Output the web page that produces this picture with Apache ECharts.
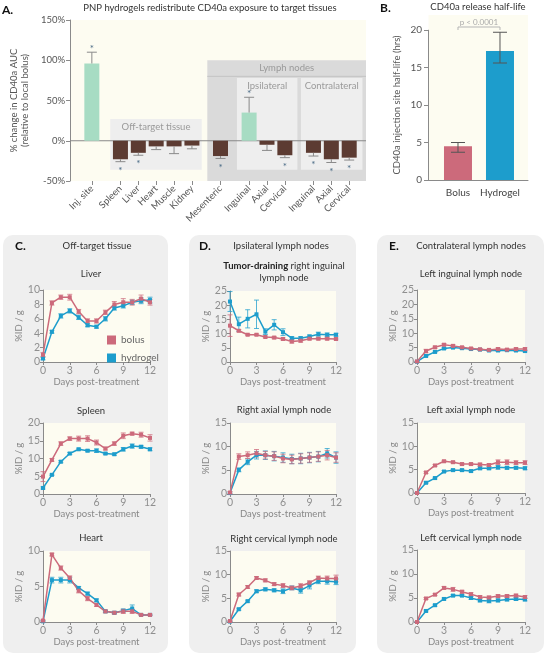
<!DOCTYPE html>
<html><head><meta charset="utf-8">
<script src="https://cdn.jsdelivr.net/npm/echarts@6/dist/echarts.min.js"></script>
<style>html,body{margin:0;padding:0;background:#fff}#c{width:546px;height:659px}</style>
</head><body><div id="c"></div>
<script>
// ---------------- DATA ----------------
// Panel A
const aCategories = ['Inj. site','Spleen','Liver','Heart','Muscle','Kidney','Mesenteric','Inguinal','Axial','Cervical','Inguinal','Axial','Cervical'];
const aPositions = [0,1.6,2.6,3.6,4.6,5.6,7.2,8.8,9.8,10.8,12.4,13.4,14.4];
const aValues = [96,-23,-15,-7,-7,-6,-19,35,-5,-18,-15,-23,-21];
const aErrorEnds = [110,-26,-18,-11,-16,-10,-22,54,-12,-21,-19,-27,-24];
const aSignificant = [1,1,1,0,0,0,1,1,0,1,1,1,1];
const aTickValues = [-50,0,50,100,150];
const aRegionLabels = ['Off-target tissue','Lymph nodes','Ipsilateral','Contralateral'];

// Panel B
const bCategories = ['Bolus','Hydrogel'];
const bValues = [4.5, 17.2];
const bErrLow = [3.7, 15.6];
const bErrHigh = [5.0, 19.7];
const bPValue = 'p < 0.0001';
const bTickValues = [0,5,10,15,20];

// Panels C/D/E
const days = [0,1,2,3,4,5,6,7,8,9,10,11,12];
const liverBolus = [1.0,8.2,9.0,9.0,7.0,5.7,5.7,6.9,8.0,8.3,8.3,8.8,8.3];
const liverBolusErr = [0.3,0.3,0.3,0.4,0.3,0.3,0.3,0.3,0.4,0.5,0.4,0.5,0.4];
const liverHydrogel = [0.5,4.2,6.4,7.1,6.2,5.1,4.9,6.0,7.5,7.8,8.3,8.5,8.6];
const liverHydrogelErr = [0.2,0.2,0.3,0.3,0.3,0.2,0.2,0.3,0.3,0.3,0.3,0.4,0.4];

const spleenBolus = [4.9,9.6,14.2,15.6,15.6,15.6,14.5,12.8,14.2,16.4,17.0,16.7,15.8];
const spleenBolusErr = [1.4,0.4,0.5,0.5,0.7,0.8,0.7,0.4,0.5,0.8,0.4,0.7,0.9];
const spleenHydrogel = [1.7,5.4,9.1,11.4,12.6,12.2,12.2,11.4,11.2,12.6,13.5,13.3,12.6];
const spleenHydrogelErr = [0.3,0.2,0.3,0.3,0.3,0.3,0.5,0.3,0.3,0.5,0.6,0.4,0.4];

const heartBolus = [0.2,9.5,7.6,6.2,4.4,3.3,2.4,1.5,1.3,1.5,1.5,1.0,1.0];
const heartBolusErr = [0.1,0.2,0.3,0.3,0.3,0.3,0.2,0.2,0.2,0.3,0.3,0.1,0.1];
const heartHydrogel = [0.1,5.9,5.9,5.9,4.8,4.0,3.05,1.5,1.3,1.6,1.9,1.0,1.0];
const heartHydrogelErr = [0.1,0.4,0.4,0.4,0.2,0.2,0.2,0.1,0.1,0.2,0.5,0.1,0.1];

const rInguinalBolus = [12.8,11.0,9.6,9.6,8.8,8.6,8.1,7.2,7.5,8.2,8.2,8.2,8.1];
const rInguinalBolusErr = [3.8,0.4,0.3,0.3,0.3,0.4,0.4,0.5,0.5,0.4,0.4,0.4,0.3];
const rInguinalHydrogel = [21.3,13.3,15.2,16.8,10.7,13.1,10.5,8.4,8.4,9.0,9.8,9.6,9.6];
const rInguinalHydrogelErr = [3.5,2.5,3.2,5.0,1.0,1.8,1.2,0.5,0.5,0.5,0.7,0.6,0.5];

const rAxialBolus = [0.3,7.9,8.2,8.6,8.2,8.0,7.5,7.3,7.5,7.7,7.9,8.2,7.7];
const rAxialBolusErr = [0.2,0.6,0.7,0.8,0.8,0.9,0.9,0.9,1.0,1.0,1.0,1.0,1.0];
const rAxialHydrogel = [0.2,5.1,6.8,8.2,8.2,8.0,7.7,7.4,7.5,7.7,7.9,8.6,7.7];
const rAxialHydrogelErr = [0.2,0.4,0.6,0.8,0.9,1.0,1.0,1.0,1.1,1.1,1.1,1.0,1.2];

const rCervicalBolus = [0.2,5.8,7.4,9.3,8.8,8.0,7.7,7.2,7.6,8.3,9.3,9.2,9.2];
const rCervicalBolusErr = [0.1,0.3,0.3,0.3,0.3,0.3,0.4,0.4,0.5,0.4,0.4,0.5,0.7];
const rCervicalHydrogel = [0.1,2.7,4.4,6.5,6.9,6.7,6.5,7.2,6.7,7.7,8.6,8.6,8.5];
const rCervicalHydrogelErr = [0.1,0.2,0.2,0.3,0.3,0.3,0.5,0.4,0.6,0.7,0.5,0.6,0.6];

const lInguinalBolus = [0.2,3.8,5.1,6.0,5.6,5.1,4.7,4.4,4.2,4.5,4.3,4.5,4.5];
const lInguinalBolusErr = [0.1,0.6,0.4,0.4,0.4,0.3,0.3,0.3,0.3,0.4,0.3,0.4,0.4];
const lInguinalHydrogel = [0.1,2.1,3.5,4.7,5.0,4.8,4.5,4.3,4.0,4.0,4.1,4.0,3.8];
const lInguinalHydrogelErr = [0.1,0.3,0.3,0.3,0.3,0.3,0.3,0.3,0.3,0.3,0.3,0.3,0.3];

const lAxialBolus = [0.0,4.4,5.9,6.8,6.6,6.2,6.2,6.1,6.0,6.6,6.6,6.5,6.5];
const lAxialBolusErr = [0.1,0.2,0.2,0.2,0.2,0.2,0.2,0.3,0.3,0.5,0.5,0.4,0.4];
const lAxialHydrogel = [0.0,2.2,3.2,4.6,4.9,4.9,4.7,5.3,5.3,5.5,5.4,5.4,5.3];
const lAxialHydrogelErr = [0.1,0.2,0.2,0.2,0.2,0.2,0.2,0.3,0.3,0.4,0.3,0.3,0.3];

const lCervicalBolus = [0.0,4.9,5.7,7.1,6.8,6.3,5.8,5.2,5.1,5.4,5.4,5.5,5.2];
const lCervicalBolusErr = [0.1,0.2,0.2,0.3,0.4,0.3,0.3,0.3,0.3,0.3,0.3,0.3,0.3];
const lCervicalHydrogel = [0.0,2.3,3.5,4.8,5.5,5.5,5.0,4.5,4.4,4.5,4.7,4.8,4.7];
const lCervicalHydrogelErr = [0.1,0.2,0.2,0.2,0.2,0.2,0.3,0.3,0.4,0.3,0.3,0.3,0.3];

const lineCharts = [
  {title:'Liver', max:10, interval:2, bolus:liverBolus, bolusErr:liverBolusErr, hydrogel:liverHydrogel, hydrogelErr:liverHydrogelErr},
  {title:'Spleen', max:20, interval:5, bolus:spleenBolus, bolusErr:spleenBolusErr, hydrogel:spleenHydrogel, hydrogelErr:spleenHydrogelErr},
  {title:'Heart', max:10, interval:5, bolus:heartBolus, bolusErr:heartBolusErr, hydrogel:heartHydrogel, hydrogelErr:heartHydrogelErr},
  {title:'{b|Tumor-draining} right inguinal\nlymph node', max:25, interval:5, bolus:rInguinalBolus, bolusErr:rInguinalBolusErr, hydrogel:rInguinalHydrogel, hydrogelErr:rInguinalHydrogelErr},
  {title:'Right axial lymph node', max:15, interval:5, bolus:rAxialBolus, bolusErr:rAxialBolusErr, hydrogel:rAxialHydrogel, hydrogelErr:rAxialHydrogelErr},
  {title:'Right cervical lymph node', max:15, interval:5, bolus:rCervicalBolus, bolusErr:rCervicalBolusErr, hydrogel:rCervicalHydrogel, hydrogelErr:rCervicalHydrogelErr},
  {title:'Left inguinal lymph node', max:25, interval:5, bolus:lInguinalBolus, bolusErr:lInguinalBolusErr, hydrogel:lInguinalHydrogel, hydrogelErr:lInguinalHydrogelErr},
  {title:'Left axial lymph node', max:15, interval:5, bolus:lAxialBolus, bolusErr:lAxialBolusErr, hydrogel:lAxialHydrogel, hydrogelErr:lAxialHydrogelErr},
  {title:'Left cervical lymph node', max:15, interval:5, bolus:lCervicalBolus, bolusErr:lCervicalBolusErr, hydrogel:lCervicalHydrogel, hydrogelErr:lCervicalHydrogelErr}
];

// ---------------- LAYOUT / STYLE ----------------
const FONT = 'Lato, "Noto Sans", sans-serif';
const BOLUS = '#cc6a7b', HYDRO = '#1d9dcc';
const GREEN = '#a7dcc3', BROWN = '#5c3b32';
const PLOTBG = '#fdfcf1';
const AXIS = '#8a8a8a', LABEL = '#8f8f8f';

const aXMin = -1.22, aXMax = 15.34;
const aRegions = [
  {x0:6.46, x1:aXMax, y0:-50, y1:100, fill:'#dadada'},
  {x0:6.46, x1:aXMax, y0:80, y1:80, line:'#c3c3c3'},
  {x0:1.03, x1:6.15, y0:-36, y1:27, fill:'#eeeeee', label:0},
  {x0:6.46, x1:aXMax, y0:80, y1:100, label:1, noFill:true},
  {x0:8.12, x1:11.5, y0:-36, y1:78, fill:'#eeeeee', label:2},
  {x0:11.7, x1:15.14, y0:-36, y1:78, fill:'#eeeeee', label:3}
];
const bXMin = -0.714, bXMax = 1.667;

const lineLayout = [
  {left:43, top:290, width:107, height:72, tx:91, ty:274},
  {left:43, top:423, width:107, height:71, tx:91, ty:411},
  {left:43, top:551, width:107, height:71, tx:91, ty:538},
  {left:230, top:291, width:106, height:71, tx:284, ty:272},
  {left:230, top:423, width:106, height:71, tx:284, ty:410},
  {left:230, top:551, width:106, height:71, tx:284, ty:539},
  {left:417, top:290, width:108, height:72, tx:471, ty:274},
  {left:417, top:423, width:108, height:70, tx:471, ty:410},
  {left:417, top:550, width:108, height:72, tx:471, ty:538}
];

const grid = [
  {left:53, top:20, width:313, height:161, show:true, backgroundColor:PLOTBG, borderWidth:0},
  {left:428, top:30, width:100, height:150, show:true, backgroundColor:PLOTBG, borderWidth:0}
];
const xAxis = [
  {gridIndex:0, type:'value', min:aXMin, max:aXMax, splitLine:{show:false}, axisLine:{show:false, onZero:false},
   axisTick:{show:true, customValues:aPositions, length:4, lineStyle:{color:AXIS}},
   axisLabel:{customValues:aPositions, rotate:45, margin:6, fontSize:9.5, color:'#555', fontFamily:FONT,
     formatter:function(v){ let best=0; for(let i=0;i<aPositions.length;i++){ if(Math.abs(aPositions[i]-v)<Math.abs(aPositions[best]-v)) best=i; } return aCategories[best]; }}},
  {gridIndex:1, type:'value', min:bXMin, max:bXMax, splitLine:{show:false},
   axisLine:{show:true, onZero:false, lineStyle:{color:AXIS}}, axisTick:{show:false},
   axisLabel:{customValues:[0,1], margin:8, fontSize:10, color:'#444', fontFamily:FONT,
     formatter:function(v){ return bCategories[Math.round(v)]; }}}
];
const yAxis = [
  {gridIndex:0, type:'value', min:-50, max:150, interval:50, splitLine:{show:false},
   axisLine:{show:true, onZero:false, lineStyle:{color:AXIS}}, axisTick:{show:true, length:4, lineStyle:{color:AXIS}},
   axisLabel:{formatter:'{value}%', fontSize:9.5, color:'#555', fontFamily:FONT, margin:5},
   name:'% change in CD40a AUC\n(relative to local bolus)', nameLocation:'middle', nameGap:33,
   nameTextStyle:{fontSize:9.5, color:'#555', fontFamily:FONT, lineHeight:11}},
  {gridIndex:1, type:'value', min:0, max:20, interval:5, splitLine:{show:false},
   axisLine:{show:true, onZero:false, lineStyle:{color:AXIS}}, axisTick:{show:true, length:4, lineStyle:{color:AXIS}},
   axisLabel:{show:true, fontSize:10, color:'#555', fontFamily:FONT, margin:6},
   name:'CD40a injection site half-life (hrs)', nameLocation:'middle', nameGap:26,
   nameTextStyle:{fontSize:9.5, color:'#555', fontFamily:FONT}}
];

const series = [];

// Panel A regions
series.push({
  type:'custom', xAxisIndex:0, yAxisIndex:0, z:1, silent:true,
  data: aRegions.map((r,i)=>[i]),
  renderItem:function(params, api){
    const r = aRegions[params.dataIndex];
    const p0 = api.coord([r.x0, r.y1]), p1 = api.coord([r.x1, r.y0]);
    const children = [];
    if (r.line) {
      children.push({type:'line', shape:{x1:p0[0], y1:p0[1], x2:p1[0], y2:p0[1]}, style:{stroke:r.line, lineWidth:1}});
    } else if (!r.noFill) {
      children.push({type:'rect', shape:{x:p0[0], y:p0[1], width:p1[0]-p0[0], height:p1[1]-p0[1]}, style:{fill:r.fill}});
    }
    if (r.label !== undefined) {
      const cy = r.noFill ? (p0[1]+p1[1])/2 : p0[1]+3;
      children.push({type:'text', x:(p0[0]+p1[0])/2, y:cy, style:{text:aRegionLabels[r.label], fill:'#9a9a9a', fontSize:9.5, fontFamily:FONT, align:'center', verticalAlign: r.noFill ? 'middle':'top'}});
    }
    if (params.dataIndex === aRegions.length-1) {
      const z0 = api.coord([aXMin,0]), z1 = api.coord([aXMax,0]);
      children.push({type:'line', shape:{x1:z0[0], y1:z0[1], x2:z1[0], y2:z1[1]}, style:{stroke:'#888', lineWidth:1}});
    }
    return {type:'group', children:children};
  }
});
// Panel A bars
series.push({
  type:'bar', xAxisIndex:0, yAxisIndex:0, z:2, barWidth:15,
  data: aPositions.map((x,i)=>({value:[x, aValues[i]], itemStyle:{color: aValues[i] > 0 ? GREEN : BROWN}}))
});
// Panel A error bars and asterisks
series.push({
  type:'custom', xAxisIndex:0, yAxisIndex:0, z:3, silent:true,
  data: aPositions.map((x,i)=>[x, aValues[i], aErrorEnds[i], aSignificant[i]]),
  renderItem:function(params, api){
    const x = api.value(0), v = api.value(1), e = api.value(2), s = api.value(3);
    const p0 = api.coord([x, v]), p1 = api.coord([x, e]);
    const w = 5;
    const ch = [
      {type:'line', shape:{x1:p0[0], y1:p0[1], x2:p1[0], y2:p1[1]}, style:{stroke:'#8a8a8a', lineWidth:1}},
      {type:'line', shape:{x1:p1[0]-w, y1:p1[1], x2:p1[0]+w, y2:p1[1]}, style:{stroke:'#8a8a8a', lineWidth:1}}
    ];
    if (s) {
      const up = v > 0;
      ch.push({type:'text', x:p1[0], y: up ? p1[1]-3 : p1[1]+9, style:{text:'*', fill:'#4a6b86', fontSize:10, fontFamily:FONT, align:'center', verticalAlign:'middle'}});
    }
    return {type:'group', children:ch};
  }
});
// Panel B bars
series.push({
  type:'bar', xAxisIndex:1, yAxisIndex:1, z:2, barWidth:28,
  data: bValues.map((v,i)=>({value:[i, v], itemStyle:{color: i===0 ? BOLUS : HYDRO}}))
});
series.push({
  type:'custom', xAxisIndex:1, yAxisIndex:1, z:1, silent:true, clip:false,
  data: bValues.map((v,i)=>[i, bErrLow[i], bErrHigh[i]]),
  renderItem:function(params, api){
    const x = api.value(0);
    const lo = api.coord([x, api.value(1)]), hi = api.coord([x, api.value(2)]);
    const w = 7;
    const st = {stroke:'#555', lineWidth:1};
    const ch = [];
    if (params.dataIndex === 0) {
      // extend plot background a little above the top tick
      const t0 = api.coord([bXMin, 20]), t1 = api.coord([bXMax, 20]);
      ch.push({type:'rect', z2:-1, shape:{x:t0[0]+0.5, y:t0[1]-15, width:t1[0]-t0[0]-0.5, height:15}, style:{fill:PLOTBG}});
      const b0 = api.coord([0, 20.4]), b1 = api.coord([1, 20.4]);
      const gs = {stroke:'#b5b5b5', lineWidth:1};
      ch.push({type:'line', shape:{x1:b0[0], y1:b0[1], x2:b1[0], y2:b1[1]}, style:gs});
      ch.push({type:'line', shape:{x1:b0[0], y1:b0[1], x2:b0[0], y2:b0[1]+3}, style:gs});
      ch.push({type:'line', shape:{x1:b1[0], y1:b1[1], x2:b1[0], y2:b1[1]+3}, style:gs});
      ch.push({type:'text', x:(b0[0]+b1[0])/2, y:b0[1]-1, style:{text:bPValue, fill:'#aaa', fontSize:8, fontFamily:FONT, align:'center', verticalAlign:'bottom'}});
    }
    return {type:'group', children:ch};
  }
});
series.push({
  type:'custom', xAxisIndex:1, yAxisIndex:1, z:3, silent:true,
  data: bValues.map((v,i)=>[i, bErrLow[i], bErrHigh[i]]),
  renderItem:function(params, api){
    const x = api.value(0);
    const lo = api.coord([x, api.value(1)]), hi = api.coord([x, api.value(2)]);
    const w = 7;
    const st = {stroke:'#555', lineWidth:1};
    return {type:'group', children:[
      {type:'line', shape:{x1:lo[0], y1:lo[1], x2:hi[0], y2:hi[1]}, style:st},
      {type:'line', shape:{x1:lo[0]-w, y1:lo[1], x2:lo[0]+w, y2:lo[1]}, style:st},
      {type:'line', shape:{x1:hi[0]-w, y1:hi[1], x2:hi[0]+w, y2:hi[1]}, style:st}
    ]};
  }
});

function errRender(color){
  return function(params, api){
    const x = api.value(0), y = api.value(1), e = api.value(2);
    const p1 = api.coord([x, y+e]), p2 = api.coord([x, y-e]);
    const w = 2.5, st = {stroke:color, lineWidth:1, opacity:0.75};
    return {type:'group', children:[
      {type:'line', shape:{x1:p1[0], y1:p1[1], x2:p2[0], y2:p2[1]}, style:st},
      {type:'line', shape:{x1:p1[0]-w, y1:p1[1], x2:p1[0]+w, y2:p1[1]}, style:st},
      {type:'line', shape:{x1:p2[0]-w, y1:p2[1], x2:p2[0]+w, y2:p2[1]}, style:st}
    ]};
  };
}

const graphic = [];
// Panel boxes
[[3,235,165,418],[189,235,167,418],[377,235,167,418]].forEach(b=>{
  graphic.push({type:'rect', z:-10, silent:true, shape:{x:b[0], y:b[1], width:b[2], height:b[3], r:10}, style:{fill:'#efefef'}});
});

lineCharts.forEach((c, k)=>{
  const L = lineLayout[k];
  const gi = grid.length;
  grid.push({left:L.left, top:L.top, width:L.width, height:L.height, show:true, backgroundColor:PLOTBG, borderWidth:0});
  xAxis.push({gridIndex:gi, type:'value', min:0, max:12, interval:3, splitLine:{show:false},
    axisLine:{onZero:false, lineStyle:{color:AXIS}}, axisTick:{length:3, lineStyle:{color:AXIS}},
    axisLabel:{fontSize:10.5, color:LABEL, fontFamily:FONT, margin:3},
    name:'Days post-treatment', nameLocation:'middle', nameGap:15,
    nameTextStyle:{fontSize:9.5, color:'#888', fontFamily:FONT}});
  yAxis.push({gridIndex:gi, type:'value', min:0, max:c.max, interval:c.interval, splitLine:{show:false},
    axisLine:{show:true, onZero:false, lineStyle:{color:AXIS}}, axisTick:{show:true, length:3, lineStyle:{color:AXIS}},
    axisLabel:{fontSize:10.5, color:LABEL, fontFamily:FONT, margin:3},
    name:'%ID / g', nameLocation:'middle', nameGap:13,
    nameTextStyle:{fontSize:9.5, color:'#888', fontFamily:FONT}});
  const ai = xAxis.length-1;
  [['hydrogel', c.hydrogel, c.hydrogelErr, HYDRO], ['bolus', c.bolus, c.bolusErr, BOLUS]].forEach(s=>{
    series.push({type:'custom', xAxisIndex:ai, yAxisIndex:ai, z:2, silent:true,
      data: days.map((d,i)=>[d, s[1][i], s[2][i]]), renderItem: errRender(s[3])});
    series.push({type:'line', name:s[0], xAxisIndex:ai, yAxisIndex:ai, z:3,
      data: days.map((d,i)=>[d, s[1][i]]), color:s[3],
      symbol:'rect', symbolSize:4, showSymbol:true, lineStyle:{width:1.5, color:s[3]}, itemStyle:{color:s[3]}});
  });
  graphic.push({type:'text', x:L.tx, y:L.ty, style:{text:c.title, fill:'#333', fontSize:9.5, fontFamily:FONT,
    align:'center', verticalAlign:'middle', lineHeight:12, rich:{b:{fontWeight:'bold', fontSize:9.5, fontFamily:FONT, fill:'#222'}}}});
});

// Panel titles
const T = (text, x, y, opts) => graphic.push({type:'text', x:x, y:y, style:Object.assign({text:text, fill:'#333', fontSize:9.5, fontFamily:FONT, verticalAlign:'middle'}, opts||{})});
T('A.', 2, 10, {fontSize:12, fontWeight:'bold', fill:'#111'});
T('PNP hydrogels redistribute CD40a exposure to target tissues', 210, 8, {align:'center'});
T('B.', 380, 8, {fontSize:12, fontWeight:'bold', fill:'#111'});
T('CD40a release half-life', 478, 7, {align:'center'});
T('C.', 15, 246, {fontSize:12, fontWeight:'bold', fill:'#111'});
T('Off-target tissue', 97, 246, {align:'center'});
T('D.', 199, 246, {fontSize:12, fontWeight:'bold', fill:'#111'});
T('Ipsilateral lymph nodes', 281, 246, {align:'center'});
T('E.', 389, 246, {fontSize:12, fontWeight:'bold', fill:'#111'});
T('Contralateral lymph nodes', 471, 246, {align:'center'});

const chart = echarts.init(document.getElementById('c'), null, {renderer:'canvas'});
chart.setOption({
  animation:false,
  backgroundColor:'#fff',
  grid:grid, xAxis:xAxis, yAxis:yAxis, series:series, graphic:graphic,
  legend:{data:['bolus','hydrogel'], orient:'vertical', left:102, top:330, itemWidth:9, itemHeight:9, itemGap:8,
    icon:'rect', textStyle:{fontSize:10, color:'#666', fontFamily:FONT}, selectedMode:false}
});
</script>
</body></html>
